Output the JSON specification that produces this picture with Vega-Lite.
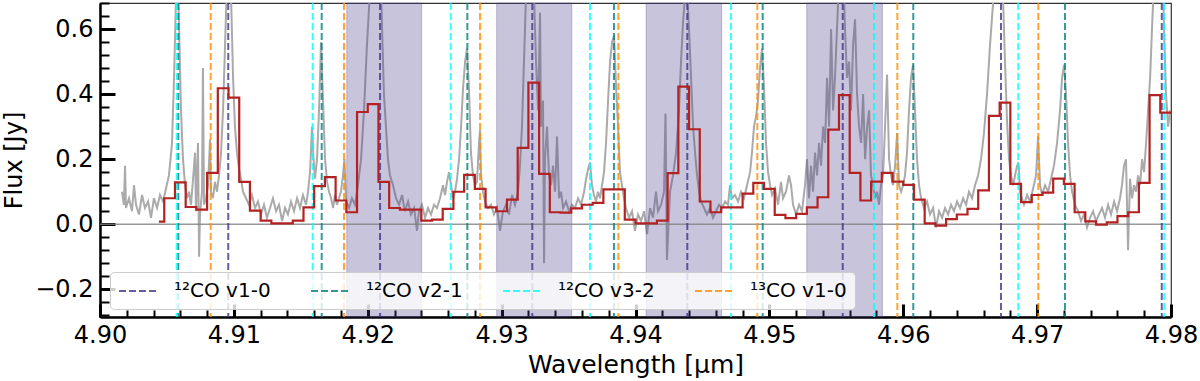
{
"$schema": "https://vega.github.io/schema/vega-lite/v6.json",
"width": 1071, "height": 314,
"autosize": {"type": "none"},
"padding": {"left": 100, "top": 3, "right": 29, "bottom": 64},
"background": "white",
"config": {"view": {"stroke": "#333333", "strokeWidth": 1.2}, "font": "DejaVu Sans"},
"datasets": {
"gray": [
{"w":4.90164,"f":0.10},{"w":4.90179,"f":0.06},{"w":4.90187,"f":0.18},{"w":4.90194,"f":0.05},{"w":4.90217,"f":0.08},{"w":4.90239,"f":0.04},{"w":4.90254,"f":0.12},{"w":4.90269,"f":0.06},{"w":4.90291,"f":0.03},{"w":4.90314,"f":0.09},{"w":4.90336,"f":0.05},{"w":4.90359,"f":0.07},{"w":4.90381,"f":0.02},{"w":4.90403,"f":0.08},{"w":4.90426,"f":0.05},{"w":4.90448,"f":0.09},{"w":4.90471,"f":0.07},{"w":4.90493,"f":0.11},{"w":4.90515,"f":0.15},{"w":4.90538,"f":0.25},{"w":4.90553,"f":0.45},{"w":4.90568,"f":0.7},{"w":4.90579,"f":0.78},{"w":4.90590,"f":0.62},{"w":4.90605,"f":0.35},{"w":4.90620,"f":0.2},{"w":4.90635,"f":0.12},{"w":4.90650,"f":0.08},{"w":4.90665,"f":0.1},{"w":4.90680,"f":0.06},{"w":4.90695,"f":0.14},{"w":4.90710,"f":0.22},{"w":4.90717,"f":0.04},{"w":4.90732,"f":0.25},{"w":4.90740,"f":-0.1},{"w":4.90747,"f":0.03},{"w":4.90762,"f":0.1},{"w":4.90769,"f":0.48},{"w":4.90777,"f":0.06},{"w":4.90792,"f":0.08},{"w":4.90807,"f":0.12},{"w":4.90822,"f":0.26},{"w":4.90829,"f":0.1},{"w":4.90844,"f":0.08},{"w":4.90859,"f":0.13},{"w":4.90874,"f":0.1},{"w":4.90889,"f":0.15},{"w":4.90904,"f":0.22},{"w":4.90919,"f":0.35},{"w":4.90934,"f":0.55},{"w":4.90949,"f":0.75},{"w":4.90964,"f":0.8},{"w":4.90979,"f":0.7},{"w":4.90994,"f":0.45},{"w":4.91008,"f":0.3},{"w":4.91023,"f":0.22},{"w":4.91038,"f":0.17},{"w":4.91053,"f":0.14},{"w":4.91068,"f":0.1},{"w":4.91091,"f":0.08},{"w":4.91113,"f":0.06},{"w":4.91135,"f":0.09},{"w":4.91158,"f":0.05},{"w":4.91180,"f":0.07},{"w":4.91203,"f":0.03},{"w":4.91225,"f":0.06},{"w":4.91247,"f":0.02},{"w":4.91270,"f":0.05},{"w":4.91292,"f":0.08},{"w":4.91315,"f":0.04},{"w":4.91337,"f":0.06},{"w":4.91360,"f":0.01},{"w":4.91382,"f":0.05},{"w":4.91404,"f":0.03},{"w":4.91427,"f":0.07},{"w":4.91449,"f":0.04},{"w":4.91472,"f":0.08},{"w":4.91494,"f":0.05},{"w":4.91516,"f":0.09},{"w":4.91539,"f":0.06},{"w":4.91554,"f":0.1},{"w":4.91569,"f":0.16},{"w":4.91584,"f":0.3},{"w":4.91595,"f":0.2},{"w":4.91606,"f":0.14},{"w":4.91621,"f":0.2},{"w":4.91636,"f":0.35},{"w":4.91651,"f":0.56},{"w":4.91666,"f":0.38},{"w":4.91681,"f":0.2},{"w":4.91696,"f":0.13},{"w":4.91711,"f":0.1},{"w":4.91726,"f":0.08},{"w":4.91741,"f":0.05},{"w":4.91755,"f":0.09},{"w":4.91770,"f":0.06},{"w":4.91785,"f":0.08},{"w":4.91800,"f":0.1},{"w":4.91815,"f":0.15},{"w":4.91826,"f":0.2},{"w":4.91838,"f":0.07},{"w":4.91860,"f":0.05},{"w":4.91882,"f":0.08},{"w":4.91905,"f":0.06},{"w":4.91927,"f":0.12},{"w":4.91950,"f":0.2},{"w":4.91972,"f":0.35},{"w":4.91994,"f":0.55},{"w":4.92017,"f":0.72},{"w":4.92032,"f":0.8},{"w":4.92047,"f":0.85},{"w":4.92062,"f":0.75},{"w":4.92077,"f":0.78},{"w":4.92092,"f":0.85},{"w":4.92107,"f":0.6},{"w":4.92121,"f":0.4},{"w":4.92136,"f":0.3},{"w":4.92151,"f":0.2},{"w":4.92166,"f":0.15},{"w":4.92189,"f":0.12},{"w":4.92211,"f":0.08},{"w":4.92234,"f":0.06},{"w":4.92256,"f":0.09},{"w":4.92278,"f":0.04},{"w":4.92301,"f":0.07},{"w":4.92323,"f":0.03},{"w":4.92346,"f":0.05},{"w":4.92368,"f":-0.02},{"w":4.92383,"f":0.04},{"w":4.92405,"f":0.06},{"w":4.92428,"f":0.02},{"w":4.92450,"f":0.05},{"w":4.92473,"f":0.03},{"w":4.92495,"f":0.06},{"w":4.92517,"f":0.05},{"w":4.92540,"f":0.08},{"w":4.92562,"f":0.12},{"w":4.92577,"f":0.09},{"w":4.92592,"f":0.13},{"w":4.92607,"f":0.16},{"w":4.92622,"f":0.12},{"w":4.92637,"f":0.08},{"w":4.92652,"f":0.1},{"w":4.92667,"f":0.14},{"w":4.92682,"f":0.2},{"w":4.92697,"f":0.3},{"w":4.92712,"f":0.42},{"w":4.92727,"f":0.5},{"w":4.92741,"f":0.54},{"w":4.92756,"f":0.42},{"w":4.92771,"f":0.22},{"w":4.92786,"f":0.15},{"w":4.92801,"f":0.12},{"w":4.92816,"f":0.13},{"w":4.92831,"f":0.25},{"w":4.92839,"f":0.29},{"w":4.92846,"f":0.15},{"w":4.92861,"f":0.1},{"w":4.92876,"f":0.07},{"w":4.92898,"f":0.05},{"w":4.92921,"f":0.06},{"w":4.92943,"f":0.03},{"w":4.92966,"f":0.05},{"w":4.92988,"f":-0.02},{"w":4.93010,"f":0.04},{"w":4.93033,"f":0.06},{"w":4.93055,"f":0.03},{"w":4.93078,"f":0.09},{"w":4.93100,"f":0.06},{"w":4.93122,"f":0.1},{"w":4.93137,"f":0.18},{"w":4.93152,"f":0.3},{"w":4.93167,"f":0.5},{"w":4.93182,"f":0.7},{"w":4.93197,"f":0.85},{"w":4.93212,"f":0.8},{"w":4.93227,"f":0.85},{"w":4.93242,"f":0.7},{"w":4.93257,"f":0.5},{"w":4.93272,"f":0.35},{"w":4.93287,"f":0.65},{"w":4.93294,"f":0.3},{"w":4.93309,"f":0.38},{"w":4.93317,"f":-0.12},{"w":4.93324,"f":0.2},{"w":4.93339,"f":0.3},{"w":4.93354,"f":0.15},{"w":4.93369,"f":0.12},{"w":4.93384,"f":0.18},{"w":4.93399,"f":0.1},{"w":4.93414,"f":0.27},{"w":4.93429,"f":0.08},{"w":4.93444,"f":0.1},{"w":4.93459,"f":0.05},{"w":4.93481,"f":0.07},{"w":4.93504,"f":0.04},{"w":4.93526,"f":0.06},{"w":4.93548,"f":0.05},{"w":4.93571,"f":0.08},{"w":4.93593,"f":0.06},{"w":4.93616,"f":0.1},{"w":4.93631,"f":0.14},{"w":4.93646,"f":0.17},{"w":4.93660,"f":0.19},{"w":4.93675,"f":0.12},{"w":4.93690,"f":0.09},{"w":4.93705,"f":0.07},{"w":4.93720,"f":0.1},{"w":4.93735,"f":0.08},{"w":4.93750,"f":0.12},{"w":4.93765,"f":0.16},{"w":4.93780,"f":0.25},{"w":4.93795,"f":0.38},{"w":4.93810,"f":0.5},{"w":4.93825,"f":0.56},{"w":4.93840,"f":0.58},{"w":4.93855,"f":0.42},{"w":4.93870,"f":0.3},{"w":4.93884,"f":0.16},{"w":4.93899,"f":0.12},{"w":4.93914,"f":0.08},{"w":4.93929,"f":0.05},{"w":4.93952,"f":0.02},{"w":4.93974,"f":0.04},{"w":4.93996,"f":-0.02},{"w":4.94019,"f":0.03},{"w":4.94041,"f":0.01},{"w":4.94064,"f":0.04},{"w":4.94086,"f":-0.03},{"w":4.94109,"f":0.05},{"w":4.94131,"f":0.02},{"w":4.94153,"f":0.1},{"w":4.94168,"f":0.04},{"w":4.94191,"f":0.06},{"w":4.94213,"f":0.1},{"w":4.94224,"f":0.34},{"w":4.94235,"f":-0.11},{"w":4.94258,"f":0.1},{"w":4.94280,"f":0.15},{"w":4.94303,"f":0.22},{"w":4.94325,"f":0.35},{"w":4.94340,"f":0.5},{"w":4.94355,"f":0.62},{"w":4.94370,"f":0.7},{"w":4.94385,"f":0.72},{"w":4.94400,"f":0.6},{"w":4.94415,"f":0.45},{"w":4.94430,"f":0.3},{"w":4.94445,"f":0.22},{"w":4.94460,"f":0.15},{"w":4.94475,"f":0.1},{"w":4.94489,"f":0.07},{"w":4.94512,"f":0.05},{"w":4.94534,"f":0.03},{"w":4.94557,"f":0.05},{"w":4.94579,"f":0.02},{"w":4.94602,"f":0.04},{"w":4.94624,"f":0.06},{"w":4.94646,"f":0.05},{"w":4.94669,"f":0.07},{"w":4.94691,"f":0.06},{"w":4.94706,"f":0.12},{"w":4.94721,"f":0.08},{"w":4.94743,"f":0.09},{"w":4.94766,"f":0.07},{"w":4.94788,"f":0.1},{"w":4.94811,"f":0.08},{"w":4.94833,"f":0.12},{"w":4.94856,"f":0.16},{"w":4.94870,"f":0.22},{"w":4.94885,"f":0.3},{"w":4.94900,"f":0.33},{"w":4.94915,"f":0.38},{"w":4.94930,"f":0.48},{"w":4.94945,"f":0.54},{"w":4.94960,"f":0.42},{"w":4.94975,"f":0.25},{"w":4.94990,"f":0.16},{"w":4.95005,"f":0.12},{"w":4.95020,"f":0.09},{"w":4.95042,"f":0.11},{"w":4.95065,"f":0.06},{"w":4.95087,"f":0.13},{"w":4.95102,"f":0.08},{"w":4.95124,"f":0.1},{"w":4.95147,"f":0.15},{"w":4.95162,"f":0.12},{"w":4.95177,"f":0.06},{"w":4.95199,"f":0.03},{"w":4.95222,"f":0.06},{"w":4.95244,"f":0.04},{"w":4.95266,"f":0.12},{"w":4.95281,"f":0.2},{"w":4.95296,"f":0.08},{"w":4.95311,"f":0.18},{"w":4.95326,"f":0.1},{"w":4.95341,"f":0.22},{"w":4.95356,"f":0.15},{"w":4.95371,"f":0.25},{"w":4.95386,"f":0.18},{"w":4.95401,"f":0.3},{"w":4.95416,"f":0.25},{"w":4.95431,"f":0.45},{"w":4.95446,"f":0.3},{"w":4.95461,"f":0.6},{"w":4.95476,"f":0.35},{"w":4.95490,"f":0.45},{"w":4.95505,"f":0.6},{"w":4.95520,"f":0.75},{"w":4.95535,"f":0.85},{"w":4.95550,"f":0.8},{"w":4.95565,"f":0.6},{"w":4.95580,"f":0.45},{"w":4.95595,"f":0.5},{"w":4.95610,"f":0.35},{"w":4.95625,"f":0.55},{"w":4.95640,"f":0.63},{"w":4.95655,"f":0.4},{"w":4.95670,"f":0.3},{"w":4.95685,"f":0.25},{"w":4.95700,"f":0.4},{"w":4.95715,"f":0.2},{"w":4.95730,"f":0.3},{"w":4.95745,"f":0.35},{"w":4.95759,"f":0.15},{"w":4.95774,"f":0.12},{"w":4.95789,"f":0.08},{"w":4.95804,"f":0.1},{"w":4.95819,"f":0.06},{"w":4.95834,"f":0.12},{"w":4.95849,"f":0.15},{"w":4.95864,"f":0.3},{"w":4.95879,"f":0.46},{"w":4.95894,"f":0.2},{"w":4.95909,"f":0.15},{"w":4.95924,"f":0.12},{"w":4.95939,"f":0.18},{"w":4.95954,"f":0.28},{"w":4.95969,"f":0.12},{"w":4.95984,"f":0.1},{"w":4.95999,"f":0.12},{"w":4.96013,"f":0.15},{"w":4.96028,"f":0.22},{"w":4.96043,"f":0.35},{"w":4.96058,"f":0.45},{"w":4.96073,"f":0.49},{"w":4.96088,"f":0.35},{"w":4.96103,"f":0.2},{"w":4.96118,"f":0.12},{"w":4.96133,"f":0.08},{"w":4.96155,"f":0.05},{"w":4.96178,"f":0.07},{"w":4.96200,"f":0.03},{"w":4.96223,"f":0.05},{"w":4.96245,"f":-0.01},{"w":4.96267,"f":0.04},{"w":4.96290,"f":0.02},{"w":4.96312,"f":0.05},{"w":4.96335,"f":0.03},{"w":4.96357,"f":0.06},{"w":4.96379,"f":0.04},{"w":4.96402,"f":0.07},{"w":4.96424,"f":0.05},{"w":4.96447,"f":0.08},{"w":4.96469,"f":0.06},{"w":4.96491,"f":0.1},{"w":4.96514,"f":0.08},{"w":4.96536,"f":0.12},{"w":4.96559,"f":0.15},{"w":4.96581,"f":0.2},{"w":4.96603,"f":0.28},{"w":4.96626,"f":0.4},{"w":4.96648,"f":0.55},{"w":4.96671,"f":0.68},{"w":4.96693,"f":0.78},{"w":4.96716,"f":0.85},{"w":4.96730,"f":0.82},{"w":4.96745,"f":0.7},{"w":4.96760,"f":0.5},{"w":4.96775,"f":0.32},{"w":4.96790,"f":0.2},{"w":4.96805,"f":0.15},{"w":4.96820,"f":0.12},{"w":4.96835,"f":0.15},{"w":4.96850,"f":0.18},{"w":4.96861,"f":0.19},{"w":4.96872,"f":0.1},{"w":4.96887,"f":0.08},{"w":4.96902,"f":0.06},{"w":4.96925,"f":0.09},{"w":4.96947,"f":0.07},{"w":4.96970,"f":0.11},{"w":4.96992,"f":0.15},{"w":4.97007,"f":0.27},{"w":4.97022,"f":0.12},{"w":4.97037,"f":0.09},{"w":4.97059,"f":0.12},{"w":4.97082,"f":0.1},{"w":4.97104,"f":0.14},{"w":4.97126,"f":0.18},{"w":4.97149,"f":0.25},{"w":4.97171,"f":0.35},{"w":4.97186,"f":0.45},{"w":4.97201,"f":0.49},{"w":4.97216,"f":0.4},{"w":4.97231,"f":0.25},{"w":4.97246,"f":0.15},{"w":4.97261,"f":0.1},{"w":4.97283,"f":0.06},{"w":4.97306,"f":0.04},{"w":4.97328,"f":0.01},{"w":4.97350,"f":0.03},{"w":4.97373,"f":-0.01},{"w":4.97395,"f":0.02},{"w":4.97418,"f":0.04},{"w":4.97440,"f":0.01},{"w":4.97462,"f":0.03},{"w":4.97485,"f":0.05},{"w":4.97507,"f":0.02},{"w":4.97530,"f":0.06},{"w":4.97552,"f":0.03},{"w":4.97575,"f":0.07},{"w":4.97597,"f":0.04},{"w":4.97619,"f":0.08},{"w":4.97634,"f":0.12},{"w":4.97649,"f":0.18},{"w":4.97664,"f":0.2},{"w":4.97679,"f":-0.08},{"w":4.97694,"f":0.14},{"w":4.97709,"f":0.08},{"w":4.97724,"f":0.12},{"w":4.97739,"f":0.1},{"w":4.97754,"f":0.15},{"w":4.97769,"f":0.12},{"w":4.97784,"f":0.2},{"w":4.97799,"f":0.16},{"w":4.97814,"f":0.25},{"w":4.97829,"f":0.35},{"w":4.97844,"f":0.45},{"w":4.97858,"f":0.6},{"w":4.97873,"f":0.75},{"w":4.97888,"f":0.82},{"w":4.97903,"f":0.85},{"w":4.97918,"f":0.9},{"w":4.97933,"f":0.85},{"w":4.97948,"f":0.6},{"w":4.97963,"f":0.4},{"w":4.97978,"f":0.3},{"w":4.97993,"f":0.35},{"w":4.98008,"f":0.3}
],
"binned": [
{"w":4.9044,"f":0.008},{"w":4.9052,"f":0.08},{"w":4.9060,"f":0.129},{"w":4.9068,"f":0.053},{"w":4.9076,"f":0.045},{"w":4.9084,"f":0.158},{"w":4.9092,"f":0.418},{"w":4.9100,"f":0.389},{"w":4.9108,"f":0.13},{"w":4.9116,"f":0.042},{"w":4.9124,"f":0.011},{"w":4.9132,"f":0.003},{"w":4.9140,"f":0.003},{"w":4.9148,"f":0.011},{"w":4.9156,"f":0.052},{"w":4.9164,"f":0.117},{"w":4.9172,"f":0.145},{"w":4.9180,"f":0.073},{"w":4.9188,"f":0.037},{"w":4.9196,"f":0.345},{"w":4.9204,"f":0.369},{"w":4.9212,"f":0.13},{"w":4.9220,"f":0.05},{"w":4.9228,"f":0.045},{"w":4.9236,"f":0.045},{"w":4.9244,"f":0.011},{"w":4.9252,"f":0.014},{"w":4.9260,"f":0.047},{"w":4.9268,"f":0.1},{"w":4.9276,"f":0.152},{"w":4.9284,"f":0.109},{"w":4.9292,"f":0.052},{"w":4.9300,"f":0.04},{"w":4.9308,"f":0.076},{"w":4.9316,"f":0.235},{"w":4.9324,"f":0.435},{"w":4.9332,"f":0.155},{"w":4.9340,"f":0.037},{"w":4.9348,"f":0.036},{"w":4.9356,"f":0.049},{"w":4.9364,"f":0.06},{"w":4.9372,"f":0.066},{"w":4.9380,"f":0.107},{"w":4.9388,"f":0.107},{"w":4.9396,"f":0.014},{"w":4.9404,"f":0.003},{"w":4.9412,"f":0.003},{"w":4.9420,"f":0.011},{"w":4.9428,"f":0.157},{"w":4.9436,"f":0.423},{"w":4.9444,"f":0.292},{"w":4.9452,"f":0.07},{"w":4.9460,"f":0.037},{"w":4.9468,"f":0.052},{"w":4.9476,"f":0.052},{"w":4.9484,"f":0.094},{"w":4.9492,"f":0.127},{"w":4.9500,"f":0.109},{"w":4.9508,"f":0.029},{"w":4.9516,"f":0.019},{"w":4.9524,"f":0.032},{"w":4.9532,"f":0.052},{"w":4.9540,"f":0.083},{"w":4.9548,"f":0.291},{"w":4.9556,"f":0.397},{"w":4.9564,"f":0.158},{"w":4.9572,"f":0.073},{"w":4.9580,"f":0.131},{"w":4.9588,"f":0.158},{"w":4.9596,"f":0.131},{"w":4.9604,"f":0.121},{"w":4.9612,"f":0.076},{"w":4.9620,"f":0.003},{"w":4.9628,"f":-0.004},{"w":4.9636,"f":0.016},{"w":4.9644,"f":0.03},{"w":4.9652,"f":0.047},{"w":4.9660,"f":0.104},{"w":4.9668,"f":0.333},{"w":4.9676,"f":0.374},{"w":4.9684,"f":0.124},{"w":4.9692,"f":0.068},{"w":4.9700,"f":0.09},{"w":4.9708,"f":0.097},{"w":4.9716,"f":0.14},{"w":4.9724,"f":0.124},{"w":4.9732,"f":0.037},{"w":4.9740,"f":0.009},{"w":4.9748,"f":-0.001},{"w":4.9756,"f":0.006},{"w":4.9764,"f":0.025},{"w":4.9772,"f":0.037},{"w":4.9780,"f":0.127},{"w":4.9788,"f":0.397},{"w":4.9796,"f":0.343},{"w":4.9804,"f":0.343}
],
"lines": [
{"w":4.90958,"t":"¹²CO v1-0"},{"w":4.92092,"t":"¹²CO v1-0"},{"w":4.93229,"t":"¹²CO v1-0"},{"w":4.94387,"t":"¹²CO v1-0"},{"w":4.95548,"t":"¹²CO v1-0"},{"w":4.96730,"t":"¹²CO v1-0"},{"w":4.97931,"t":"¹²CO v1-0"},
{"w":4.90585,"t":"¹²CO v2-1"},{"w":4.91656,"t":"¹²CO v2-1"},{"w":4.92744,"t":"¹²CO v2-1"},{"w":4.93839,"t":"¹²CO v2-1"},{"w":4.94950,"t":"¹²CO v2-1"},{"w":4.96075,"t":"¹²CO v2-1"},{"w":4.97208,"t":"¹²CO v2-1"},
{"w":4.90573,"t":"¹²CO v3-2"},{"w":4.91589,"t":"¹²CO v3-2"},{"w":4.92620,"t":"¹²CO v3-2"},{"w":4.93660,"t":"¹²CO v3-2"},{"w":4.94713,"t":"¹²CO v3-2"},{"w":4.95782,"t":"¹²CO v3-2"},{"w":4.96859,"t":"¹²CO v3-2"},{"w":4.97950,"t":"¹²CO v3-2"},
{"w":4.90827,"t":"¹³CO v1-0"},{"w":4.91823,"t":"¹³CO v1-0"},{"w":4.92839,"t":"¹³CO v1-0"},{"w":4.93872,"t":"¹³CO v1-0"},{"w":4.94910,"t":"¹³CO v1-0"},{"w":4.95956,"t":"¹³CO v1-0"},{"w":4.97009,"t":"¹³CO v1-0"}
],
"bands": [
{"w":4.91843,"w2":4.92403},{"w":4.92963,"w2":4.93524},{"w":4.94079,"w2":4.94644},{"w":4.95279,"w2":4.95844}
]
},
"resolve": {"axis": {"x": "independent", "y": "independent"}},
"layer": [
{
"data": {"name": "gray"},
"mark": {"type": "line", "color": "#aaaaaa", "strokeWidth": 2, "clip": true},
"encoding": {
"x": {"field": "w", "type": "quantitative", "scale": {"domain": [4.9, 4.98], "nice": false, "zero": false},
"axis": {"orient": "bottom", "title": "Wavelength [μm]", "values": [4.9,4.91,4.92,4.93,4.94,4.95,4.96,4.97,4.98], "format": ".2f",
"tickSize": -13, "tickWidth": 3, "tickColor": "black", "domainColor": "black", "domainWidth": 2.5, "labelFontSize": 24, "titleFontSize": 25, "titleFontWeight": "normal", "labelColor": "black", "titleColor": "black", "labelPadding": 19.5, "titlePadding": 5, "grid": false, "labelFlush": false, "labelOverlap": false, "labelBound": false}},
"y": {"field": "f", "type": "quantitative", "scale": {"domain": [-0.285, 0.68], "nice": false, "zero": false},
"axis": {"orient": "left", "title": "Flux [Jy]", "values": [-0.2,0,0.2,0.4,0.6], "format": ".1f",
"tickSize": -15, "tickWidth": 3, "tickColor": "black", "domainColor": "black", "domainWidth": 2.5, "labelFontSize": 24, "titleFontSize": 24, "titleFontWeight": "normal", "labelColor": "black", "titleColor": "black", "labelPadding": 22, "titlePadding": 8, "grid": false, "labelFlush": false, "labelOverlap": false, "labelBound": false}}
}
},
{
"data": {"name": "bands"},
"mark": {"type": "rect", "color": "#483d8b", "fillOpacity": 0.3, "stroke": "#483d8b", "strokeOpacity": 0.3, "strokeWidth": 1},
"encoding": {
"x": {"field": "w", "type": "quantitative", "scale": {"domain": [4.9, 4.98], "nice": false, "zero": false},
"axis": {"orient": "bottom", "title": null, "labels": false, "domain": false, "grid": false, "tickSize": -7, "tickWidth": 2, "tickColor": "black",
"values": [4.902,4.904,4.906,4.908,4.912,4.914,4.916,4.918,4.922,4.924,4.926,4.928,4.932,4.934,4.936,4.938,4.942,4.944,4.946,4.948,4.952,4.954,4.956,4.958,4.962,4.964,4.966,4.968,4.972,4.974,4.976,4.978]}},
"x2": {"field": "w2"}
}
},
{
"data": {"values": [{}]},
"mark": {"type": "rule", "color": "#808080", "strokeWidth": 1.5, "opacity": 0.8},
"encoding": {"y": {"datum": 0, "type": "quantitative", "scale": {"domain": [-0.285, 0.68], "nice": false, "zero": false}, "axis": null}}
},
{
"data": {"name": "lines"},
"mark": {"type": "rule", "strokeDash": [7, 3], "strokeWidth": 2, "opacity": 0.8},
"encoding": {
"x": {"field": "w", "type": "quantitative", "scale": {"domain": [4.9, 4.98], "nice": false, "zero": false}, "axis": null},
"color": {"field": "t", "type": "nominal",
"scale": {"domain": ["¹²CO v1-0", "¹²CO v2-1", "¹²CO v3-2", "¹³CO v1-0"], "range": ["#3f358a", "#008080", "#00ffff", "#ff8c00"]},
"legend": {"title": null, "orient": "none", "legendX": 10, "legendY": 269, "direction": "horizontal", "columns": 4, "symbolType": "M-1,0H3", "symbolSize": 400, "symbolStrokeWidth": 2, "symbolDash": [7, 3], "symbolOpacity": 0.8, "labelFontSize": 20, "labelFont": "DejaVu Sans", "labelColor": "black", "labelOffset": 34, "columnPadding": 36, "padding": 8, "fillColor": "rgba(255,255,255,0.8)", "strokeColor": "#cccccc", "cornerRadius": 4, "labelLimit": 0}}
}
},
{
"data": {"name": "binned"},
"mark": {"type": "line", "interpolate": "step", "color": "#b22222", "strokeWidth": 2.2, "clip": true},
"encoding": {
"x": {"field": "w", "type": "quantitative", "scale": {"domain": [4.9, 4.98], "nice": false, "zero": false}, "axis": null},
"y": {"field": "f", "type": "quantitative", "scale": {"domain": [-0.285, 0.68], "nice": false, "zero": false},
"axis": {"orient": "left", "title": null, "labels": false, "domain": false, "grid": false, "tickSize": -9, "tickWidth": 2, "tickColor": "black",
"values": [-0.28,-0.24,-0.16,-0.12,-0.08,-0.04,0.04,0.08,0.12,0.16,0.24,0.28,0.32,0.36,0.44,0.48,0.52,0.56,0.64,0.68]}}
}
}
]
}
